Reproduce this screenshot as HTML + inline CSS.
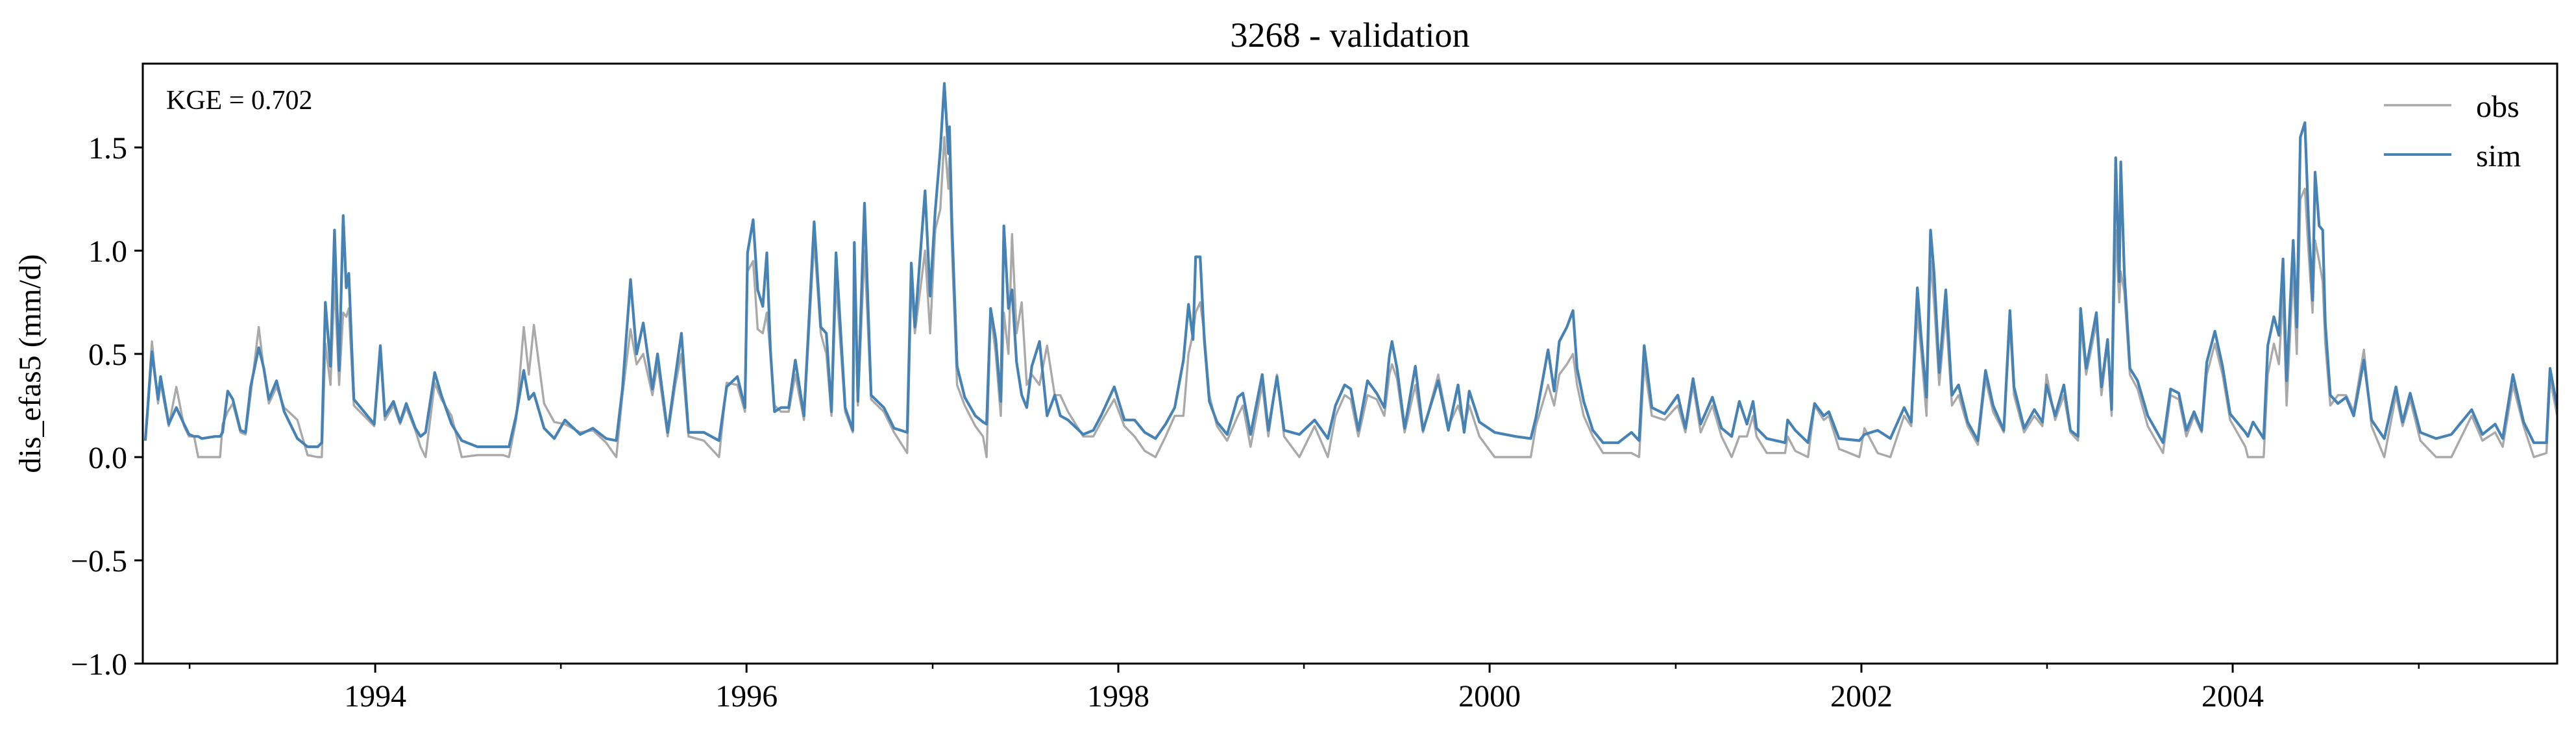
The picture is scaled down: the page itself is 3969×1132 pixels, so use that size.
<!DOCTYPE html>
<html><head><meta charset="utf-8"><style>
html,body{margin:0;padding:0;background:#fff;}
svg{display:block;font-family:"Liberation Serif",serif;}
</style></head><body>
<svg id="chart" width="3969" height="1132" viewBox="0 0 3969 1132" xmlns="http://www.w3.org/2000/svg">
<defs><clipPath id="plotclip"><rect x="220" y="98" width="3720" height="924"/></clipPath></defs>
<rect x="0" y="0" width="3969" height="1132" fill="#fff"/>
<text x="2080" y="72" text-anchor="middle" font-size="54" fill="#000">3268 - validation</text>
<text transform="translate(62,560) rotate(-90)" text-anchor="middle" font-size="48" fill="#000">dis_efas5 (mm/d)</text>
<g id="yticks"></g>
<g id="xticks"></g>
<g clip-path="url(#plotclip)">
<path id="obsLine" fill="none" stroke="#a9a9a9" stroke-width="3.4" stroke-linejoin="round"/>
<path id="simLine" fill="none" stroke="#4682b4" stroke-width="4.2" stroke-linejoin="round"/>
</g>
<rect x="220" y="98" width="3720" height="924" fill="none" stroke="#000" stroke-width="3"/>
<text x="256" y="168" font-size="42" fill="#000">KGE = 0.702</text>
<g>
<line x1="3673" y1="162" x2="3777" y2="162" stroke="#a9a9a9" stroke-width="3.5"/>
<text x="3815" y="180" font-size="48" fill="#000">obs</text>
<line x1="3673" y1="238" x2="3777" y2="238" stroke="#4682b4" stroke-width="4"/>
<text x="3815" y="256" font-size="48" fill="#000">sim</text>
</g>
</svg>
<script>
// days since 1992-10-01
const days = [5,18,30,35,51,66,81,91,101,109,116,142,152,157,167,177,192,202,212,228,238,248,263,278,304,324,344,352,359,369,377,386,394,400,405,415,435,455,467,476,493,506,518,536,546,556,574,587,607,627,658,708,720,734,749,759,769,789,809,830,860,885,911,931,943,959,971,984,1002,1012,1032,1047,1059,1073,1103,1133,1148,1169,1184,1189,1200,1209,1219,1227,1234,1242,1255,1270,1283,1300,1320,1333,1344,1354,1363,1381,1396,1399,1406,1419,1432,1457,1477,1503,1511,1518,1538,1548,1558,1568,1576,1584,
1586,1591,1601,1616,1637,1652,1659,1667,1677,1687,1693,1702,1709,1718,1728,1738,1748,1763,1778,1793,1804,1819,1849,1869,1884,1910,1930,1950,1970,1991,2011,2029,2046,2056,2065,2070,2079,2087,2097,2112,2132,2153,2163,2178,2201,2213,2230,2244,2274,2304,2330,2345,2363,2375,2390,2408,2426,2441,2451,2456,2466,2481,2502,2517,2547,2567,2586,2598,2608,2628,2658,2699,2729,2739,2763,2775,2785,2800,2812,2820,2833,2851,2871,2901,2927,2942,2952,2967,2992,3018,3033,3048,3063,3086,3104,3124,3139,3154,3166,
3173,3193,3229,3234,3249,3274,3287,3305,3315,3335,3375,3385,3411,3436,3463,3477,3489,3497,3507,3515,3522,3532,3545,3557,3570,3588,3608,3623,3638,3659,3671,3679,3699,3719,3735,3743,3760,3777,3790,3805,3810,3821,3841,3851,3863,3871,3879,3886,3889,3896,3907,3922,3942,3972,3987,4003,4018,4033,4048,4058,4074,4089,4104,4134,4139,4149,4170,4178,4190,4200,4208,4215,4228,4235,4242,4251,4258,4266,4271,4279,4286,4291,4301,4316,4332,4347,4367,4382,4407,4430,4443,4458,4478,4509,4539,4579,4600,4625,4640,4660,4681,4701,4726,4733,4747,4757];
const simVals = [.08,.51,.28,.39,.16,.24,.16,.11,.10,.10,.09,.10,.10,.12,.32,.28,.13,.12,.34,.53,.43,.28,.37,.22,.09,.05,.05,.07,.75,.44,1.10,.42,1.17,.82,.89,.28,.22,.16,.54,.20,.27,.17,.26,.14,.10,.12,.41,.30,.16,.08,.05,.05,.05,.20,.42,.28,.31,.14,.09,.18,.11,.14,.09,.08,.33,.86,.50,.65,.33,.50,.12,.39,.60,.12,.12,.08,.34,.39,.24,.99,1.15,.81,.73,.99,.52,.22,.24,.24,.47,.20,1.14,.63,.60,.22,.99,.24,.13,1.04,.27,1.23,.30,.24,.14,.12,.94,.63,1.29,.78,1.19,1.49,1.81,1.47,
1.60,1.12,.44,.29,.20,.17,.16,.72,.57,.27,1.12,.72,.81,.46,.30,.24,.44,.56,.20,.30,.20,.18,.11,.13,.20,.34,.18,.18,.12,.09,.16,.24,.47,.74,.57,.97,.97,.57,.27,.17,.11,.29,.31,.11,.40,.13,.39,.13,.11,.18,.09,.25,.35,.33,.13,.37,.31,.24,.49,.56,.43,.14,.44,.13,.37,.13,.35,.12,.32,.17,.12,.10,.09,.19,.52,.32,.56,.63,.71,.43,.27,.13,.07,.07,.12,.08,.54,.24,.21,.30,.14,.38,.16,.29,.14,.10,.27,.16,.27,
.14,.09,.07,.18,.13,.07,.26,.20,.22,.09,.08,.11,.13,.09,.24,.17,.82,.57,.29,1.10,.89,.41,.81,.30,.35,.17,.08,.42,.25,.13,.71,.34,.14,.23,.17,.35,.20,.35,.13,.10,.72,.43,.70,.34,.57,.23,1.45,.85,1.43,.89,.43,.37,.20,.07,.33,.31,.13,.22,.13,.46,.61,.44,.21,.12,.10,.17,.09,.54,.68,.59,.96,.37,1.05,.63,1.55,1.62,1.15,.76,1.38,1.12,1.10,.65,.30,.26,.29,.20,.47,.18,.09,.34,.17,.31,.12,.09,.11,.23,.11,.16,.09,.40,.17,.07,.07,.43,.24,.16];
const obsVals = [.08,.56,.26,.36,.15,.34,.15,.10,.10,.00,.00,.00,.00,.16,.22,.26,.12,.11,.30,.63,.42,.26,.34,.24,.18,.01,.00,.00,.55,.35,.85,.35,.70,.68,.72,.25,.20,.15,.50,.18,.25,.16,.24,.13,.05,.00,.36,.28,.20,.00,.01,.01,.00,.18,.63,.40,.64,.26,.17,.16,.12,.13,.07,.00,.30,.62,.45,.50,.30,.45,.10,.35,.50,.10,.08,.00,.36,.35,.22,.90,.95,.62,.60,.70,.50,.25,.22,.22,.40,.18,1.05,.60,.50,.20,.85,.22,.12,.90,.25,1.00,.28,.22,.12,.02,.85,.60,1.00,.60,1.10,1.20,1.55,1.30,
1.45,1.00,.35,.25,.15,.10,.00,.70,.50,.20,.70,.50,1.08,.60,.75,.35,.40,.35,.54,.30,.30,.22,.10,.10,.17,.28,.15,.10,.03,.00,.10,.20,.20,.50,.60,.70,.75,.60,.30,.15,.08,.20,.25,.05,.35,.10,.40,.10,.00,.15,.00,.20,.30,.28,.10,.30,.28,.20,.40,.45,.38,.12,.35,.12,.40,.15,.25,.15,.25,.10,.00,.00,.00,.15,.35,.25,.40,.45,.50,.35,.20,.10,.02,.02,.02,.00,.45,.20,.18,.25,.12,.35,.12,.25,.10,.00,.10,.10,.20,
.10,.02,.02,.10,.03,.00,.25,.18,.20,.04,.00,.14,.02,.00,.20,.15,.70,.50,.20,.95,.75,.35,.70,.25,.30,.15,.06,.38,.22,.12,.65,.30,.12,.20,.15,.40,.18,.30,.12,.08,.65,.40,.65,.30,.55,.20,1.10,.75,.90,.80,.40,.33,.15,.02,.30,.28,.10,.20,.12,.40,.55,.40,.18,.05,.00,.00,.00,.40,.55,.45,.80,.25,.90,.50,1.25,1.30,1.00,.70,1.05,.95,.85,.55,.25,.30,.30,.22,.52,.15,.00,.30,.15,.28,.08,.00,.00,.20,.08,.12,.05,.35,.15,.00,.02,.38,.20,.14];
const yTickVals = [-1.0,-0.5,0.0,0.5,1.0,1.5];
const yTickLabels = ["\u22121.0","\u22120.5","0.0","0.5","1.0","1.5"];
const xMajorYears = [1994,1996,1998,2000,2002,2004];
const xMinorYears = [1993,1995,1997,1999,2001,2003,2005];

const NS = "http://www.w3.org/2000/svg";
const X0 = 220, X1 = 3940, Y0 = 1022, Y1 = 98;
const DMAX = 4747, VMIN = -1.0, VMAX = 1.906;
const START = Date.UTC(1992, 9, 1);
function xScale(d){ return X0 + d / DMAX * (X1 - X0); }
function yScale(v){ return Y0 - (v - VMIN) / (VMAX - VMIN) * (Y0 - Y1); }
function yearDay(y){ return (Date.UTC(y, 0, 1) - START) / 86400000; }

function buildPath(vals){
  let s = "";
  for (let i = 0; i < days.length; i++) {
    s += (i ? "L" : "M") + xScale(days[i]).toFixed(1) + "," + yScale(vals[i]).toFixed(1);
  }
  return s;
}
document.getElementById("obsLine").setAttribute("d", buildPath(obsVals));
document.getElementById("simLine").setAttribute("d", buildPath(simVals));

const yg = document.getElementById("yticks");
yTickVals.forEach((v, i) => {
  const y = yScale(v);
  const t = document.createElementNS(NS, "line");
  t.setAttribute("x1", 207); t.setAttribute("x2", 220);
  t.setAttribute("y1", y); t.setAttribute("y2", y);
  t.setAttribute("stroke", "#000"); t.setAttribute("stroke-width", 3);
  
  
  yg.appendChild(t);
  const tx = document.createElementNS(NS, "text");
  tx.setAttribute("x", 196); tx.setAttribute("y", y + 17);
  tx.setAttribute("text-anchor", "end"); tx.setAttribute("font-size", 48);
  tx.textContent = yTickLabels[i];
  
  
  yg.appendChild(tx);
});

const xg = document.getElementById("xticks");
xMajorYears.forEach(yr => {
  const x = xScale(yearDay(yr));
  const t = document.createElementNS(NS, "line");
  t.setAttribute("x1", x); t.setAttribute("x2", x);
  t.setAttribute("y1", 1022); t.setAttribute("y2", 1036);
  t.setAttribute("stroke", "#000"); t.setAttribute("stroke-width", 3);
  
  
  xg.appendChild(t);
  const tx = document.createElementNS(NS, "text");
  tx.setAttribute("x", x); tx.setAttribute("y", 1088);
  tx.setAttribute("text-anchor", "middle"); tx.setAttribute("font-size", 48);
  tx.textContent = String(yr);
  
  
  xg.appendChild(tx);
});
xMinorYears.forEach(yr => {
  const x = xScale(yearDay(yr));
  const t = document.createElementNS(NS, "line");
  t.setAttribute("x1", x); t.setAttribute("x2", x);
  t.setAttribute("y1", 1022); t.setAttribute("y2", 1030);
  t.setAttribute("stroke", "#000"); t.setAttribute("stroke-width", 2.5);
  
  
  xg.appendChild(t);
});
</script>
</body></html>
